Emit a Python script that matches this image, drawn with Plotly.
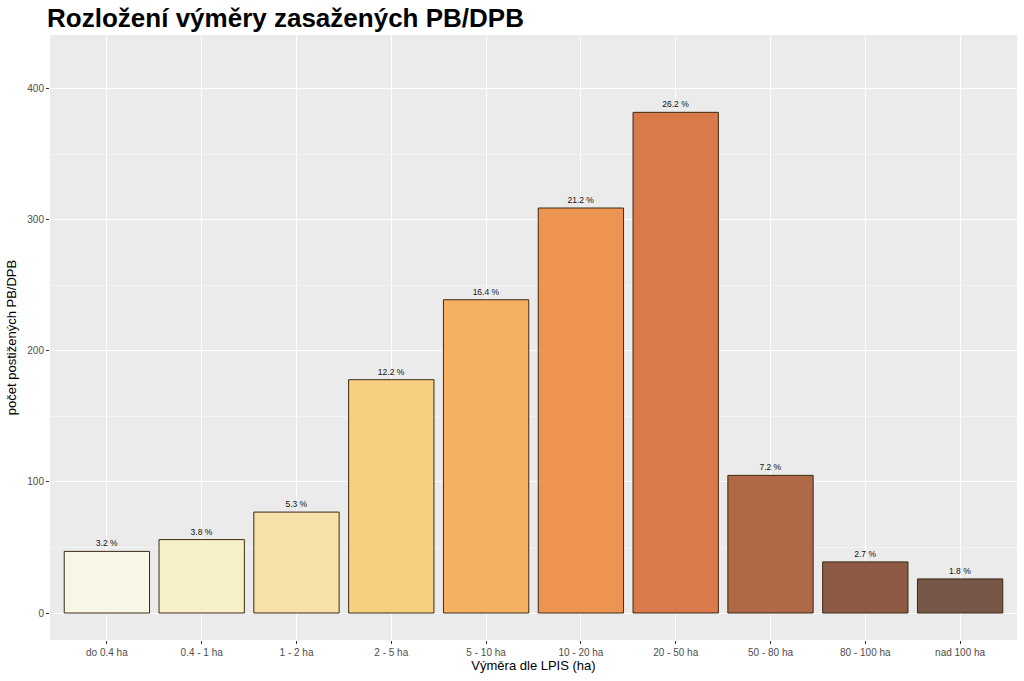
import plotly.graph_objects as go

# Area classes (LPIS) and number of affected land blocks
categories = ["do 0.4 ha", "0.4 - 1 ha", "1 - 2 ha", "2 - 5 ha", "5 - 10 ha",
              "10 - 20 ha", "20 - 50 ha", "50 - 80 ha", "80 - 100 ha", "nad 100 ha"]
counts = [47, 56, 77, 178, 239, 309, 382, 105, 39, 26]
bar_colors = ["#F8F7E6", "#F8F0C9", "#F6E2A9", "#F7CF80", "#F6B062",
              "#EE9452", "#D87A4A", "#AF6947", "#8D5B44", "#775748"]
y_ticks = [0, 100, 200, 300, 400]

total = sum(counts)
labels = [f"{100 * c / total:.1f} %" for c in counts]

FONT = "Liberation Sans, Arial, sans-serif"

fig = go.Figure()
fig.add_trace(go.Bar(
    x=categories, y=counts,
    marker=dict(color=bar_colors, line=dict(color="#3B2A12", width=1)),
    width=0.9,
    text=labels, textposition="outside",
    textfont=dict(size=8.5, color="#111111", family=FONT),
    cliponaxis=False,
    showlegend=False,
))

fig.update_layout(
    width=1024, height=681,
    margin=dict(l=50, r=7, t=35, b=41),
    paper_bgcolor="white", plot_bgcolor="#EBEBEB",
    font=dict(family=FONT),
    title=dict(text="<b>Rozložení výměry zasažených PB/DPB</b>",
               font=dict(size=26, color="black", family=FONT),
               x=0.046, xref="container", xanchor="left", y=0.973, yanchor="middle"),
    bargap=0.1,
)

fig.update_xaxes(
    range=[-0.6, 9.6], showgrid=True, gridcolor="white", gridwidth=1.1,
    ticks="outside", ticklen=3, tickcolor="#333333",
    tickfont=dict(size=10, color="#4D4D4D"),
    title=dict(text="Výměra dle LPIS (ha)", font=dict(size=13, color="black"), standoff=1),
    zeroline=False, automargin=False,
)
fig.update_yaxes(
    range=[-20.6, 441], tickvals=y_ticks, showgrid=True, gridcolor="white", gridwidth=1.1,
    minor=dict(dtick=50, tick0=50, showgrid=True, gridcolor="#F4F4F4", gridwidth=0.6),
    ticks="outside", ticklen=3, tickcolor="#333333",
    tickfont=dict(size=10, color="#4D4D4D"),
    title=dict(text="počet postižených PB/DPB", font=dict(size=13, color="black"), standoff=7),
    zeroline=False, automargin=False,
)

# drop the browser's default 8px body margin so the figure fills the window
fig.write_html("out.html", config={"displayModeBar": False},
               post_script="document.body.style.margin = '0';")
